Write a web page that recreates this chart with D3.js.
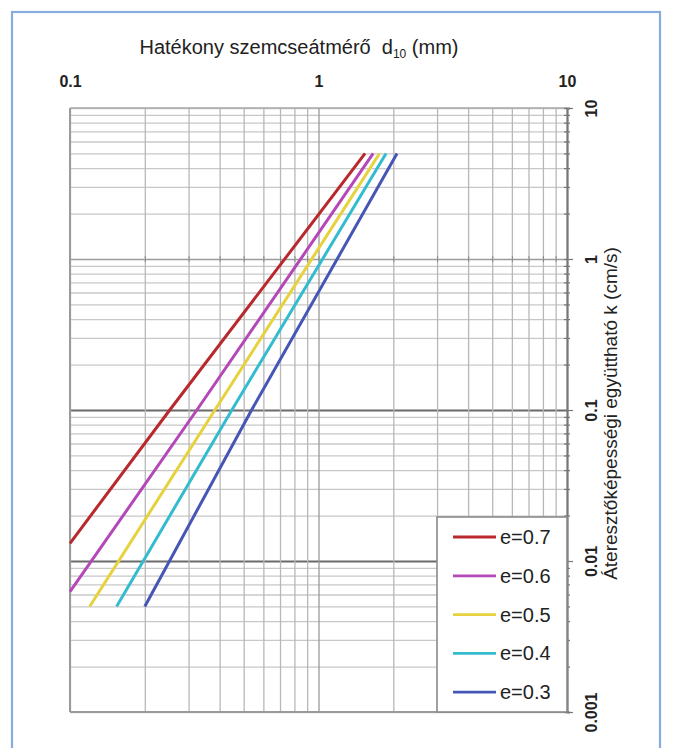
<!DOCTYPE html>
<html>
<head>
<meta charset="utf-8">
<script src="https://cdn.jsdelivr.net/npm/d3@7"></script>
<style>
  html, body { margin: 0; padding: 0; background: #fff; }
  svg { display: block; font-family: "Liberation Sans", Arial, sans-serif; }
</style>
</head>
<body>
<svg id="chart" width="673" height="748"></svg>
<script>
// Effective grain size d10 (mm) vs. hydraulic conductivity k (cm/s) for void ratios e
const seriesNames = ["e=0.7", "e=0.6", "e=0.5", "e=0.4", "e=0.3"];
const seriesColors = ["#b8282c", "#b548b8", "#e6d23c", "#33bcd0", "#4656b4"];
const d10Values = [
  [0.1, 0.252, 1.54],
  [0.1, 0.324, 1.66],
  [0.12, 0.383, 1.76],
  [0.154, 0.448, 1.87],
  [0.2, 0.538, 2.07]
];
const kValues = [
  [0.0131, 0.1, 5],
  [0.00627, 0.1, 5],
  [0.005, 0.1, 5],
  [0.005, 0.1, 5],
  [0.005, 0.1, 5]
];
const xTickValues = [0.1, 1, 10];
const xTickLabels = ["0.1", "1", "10"];
const yTickValues = [10, 1, 0.1, 0.01, 0.001];
const yTickLabels = ["10", "1", "0.1", "0.01", "0.001"];

const svg = d3.select("#chart");
const plotL = 70, plotR = 567, plotT = 108, plotB = 712;

const x = d3.scaleLog().domain([0.1, 10]).range([plotL, plotR]);
const y = d3.scaleLog().domain([0.001, 10]).range([plotB, plotT]);

// outer frame
svg.append("rect")
  .attr("x", 12).attr("y", 12).attr("width", 648).attr("height", 760)
  .attr("fill", "#fff").attr("stroke", "#86ace0").attr("stroke-width", 2.2);

// minor grid values (log spaced)
const xMinor = [];
for (let dec = 0.1; dec < 10; dec *= 10) for (let m = 1; m <= 9; m++) xMinor.push(+(dec * m).toPrecision(3));
xMinor.push(10);
const yMinor = [];
for (let dec = 0.001; dec < 10; dec *= 10) for (let m = 1; m <= 9; m++) yMinor.push(+(dec * m).toPrecision(3));
yMinor.push(10);

// horizontal grid
const hGrid = svg.append("g").attr("transform", `translate(${plotL},0)`)
  .call(d3.axisLeft(y).tickValues(yMinor).tickSize(-(plotR - plotL)).tickFormat(""));
hGrid.select(".domain").remove();
hGrid.selectAll(".tick line")
  .attr("stroke", d => (d === 0.1 || d === 0.01) ? "#6a6a6a" : (d === 1 ? "#9a9a9a" : "#c8c8c8"))
  .attr("stroke-width", d => (d === 0.1 || d === 0.01) ? 2.2 : 1.3);

// vertical grid
const vGrid = svg.append("g").attr("transform", `translate(0,${plotT})`)
  .call(d3.axisTop(x).tickValues(xMinor).tickSize(-(plotB - plotT)).tickFormat(""));
vGrid.select(".domain").remove();
vGrid.selectAll(".tick line")
  .attr("stroke", d => (d === 1) ? "#9a9a9a" : "#b8b8b8")
  .attr("stroke-width", 1.3);

// small cross ticks along the k = 1 line
const midAxis = svg.append("g").attr("transform", `translate(0,${y(1)})`)
  .call(d3.axisBottom(x).tickValues(xMinor).tickSize(3).tickFormat(""));
midAxis.select(".domain").remove();
midAxis.selectAll(".tick line").attr("y1", -3).attr("y2", 3).attr("stroke", "#888");

// plot frame
svg.append("line").attr("x1", plotL).attr("x2", plotL).attr("y1", plotT).attr("y2", plotB)
  .attr("stroke", "#9a9a9a").attr("stroke-width", 2);
svg.append("line").attr("x1", plotL).attr("x2", plotR).attr("y1", plotT).attr("y2", plotT)
  .attr("stroke", "#aaa").attr("stroke-width", 1.5);
svg.append("line").attr("x1", plotL).attr("x2", plotR).attr("y1", plotB).attr("y2", plotB)
  .attr("stroke", "#9a9a9a").attr("stroke-width", 2.2);

// top axis labels
const topAxis = svg.append("g").attr("transform", `translate(0,${plotT})`)
  .call(d3.axisTop(x).tickValues(xTickValues).tickSize(0).tickPadding(21)
    .tickFormat((d, i) => xTickLabels[i]));
topAxis.select(".domain").remove();
topAxis.selectAll("text")
  .attr("font-size", 16).attr("font-weight", "bold").attr("fill", "#222")
  .attr("font-family", "Liberation Sans, Arial, sans-serif");

// right axis with cross ticks and rotated labels
const rightAxis = svg.append("g").attr("transform", `translate(${plotR},0)`)
  .call(d3.axisRight(y).tickValues(yMinor).tickSize(3).tickFormat(""));
rightAxis.select(".domain").attr("stroke", "#777").attr("stroke-width", 2.2);
rightAxis.selectAll(".tick line")
  .attr("x1", -3).attr("x2", d => yTickValues.includes(d) ? 6 : 3)
  .attr("stroke", "#777").attr("stroke-width", 1.2);

const rightLabels = svg.append("g").attr("transform", `translate(${plotR},0)`)
  .call(d3.axisRight(y).tickValues(yTickValues).tickSize(0).tickPadding(0)
    .tickFormat((d, i) => yTickLabels[i]));
rightLabels.select(".domain").remove();
rightLabels.selectAll("text")
  .attr("x", null).attr("dy", null)
  .attr("text-anchor", "middle")
  .attr("transform", "translate(30,0) rotate(-90)")
  .attr("font-size", 16).attr("font-weight", "bold").attr("fill", "#222")
  .attr("font-family", "Liberation Sans, Arial, sans-serif");

// axis titles
const title = svg.append("text")
  .attr("x", 299).attr("y", 54).attr("text-anchor", "middle")
  .attr("font-size", 20).attr("fill", "#222");
title.append("tspan").text("Hatékony szemcseátmérő\u00a0\u00a0d");
title.append("tspan").attr("font-size", 12).attr("dy", 4).text("10");
title.append("tspan").attr("dy", -4).text(" (mm)");

svg.append("text")
  .attr("transform", `translate(617,${(242 + 585) / 2}) rotate(-90)`)
  .attr("text-anchor", "middle").attr("font-size", 19).attr("fill", "#222")
  .text("Áteresztőképességi együttható k (cm/s)");

// curves
const line = d3.line().x(p => x(p[0])).y(p => y(p[1]));
seriesNames.forEach((name, i) => {
  const pts = d10Values[i].map((d, j) => [d, kValues[i][j]]);
  svg.append("path").datum(pts)
    .attr("d", line).attr("fill", "none")
    .attr("stroke", seriesColors[i]).attr("stroke-width", 3);
});

// legend
const lg = svg.append("g");
lg.append("rect").attr("x", 437).attr("y", 517).attr("width", plotR - 437).attr("height", plotB - 517)
  .attr("fill", "#fff").attr("stroke", "#8a8a8a").attr("stroke-width", 1.6);
seriesNames.forEach((name, i) => {
  const cy = 537 + i * 38.8;
  lg.append("line").attr("x1", 453).attr("x2", 496).attr("y1", cy).attr("y2", cy)
    .attr("stroke", seriesColors[i]).attr("stroke-width", 2.8);
  lg.append("text").attr("x", 500).attr("y", cy + 7).attr("font-size", 20).attr("fill", "#222")
    .text(name);
});
</script>
</body>
</html>
